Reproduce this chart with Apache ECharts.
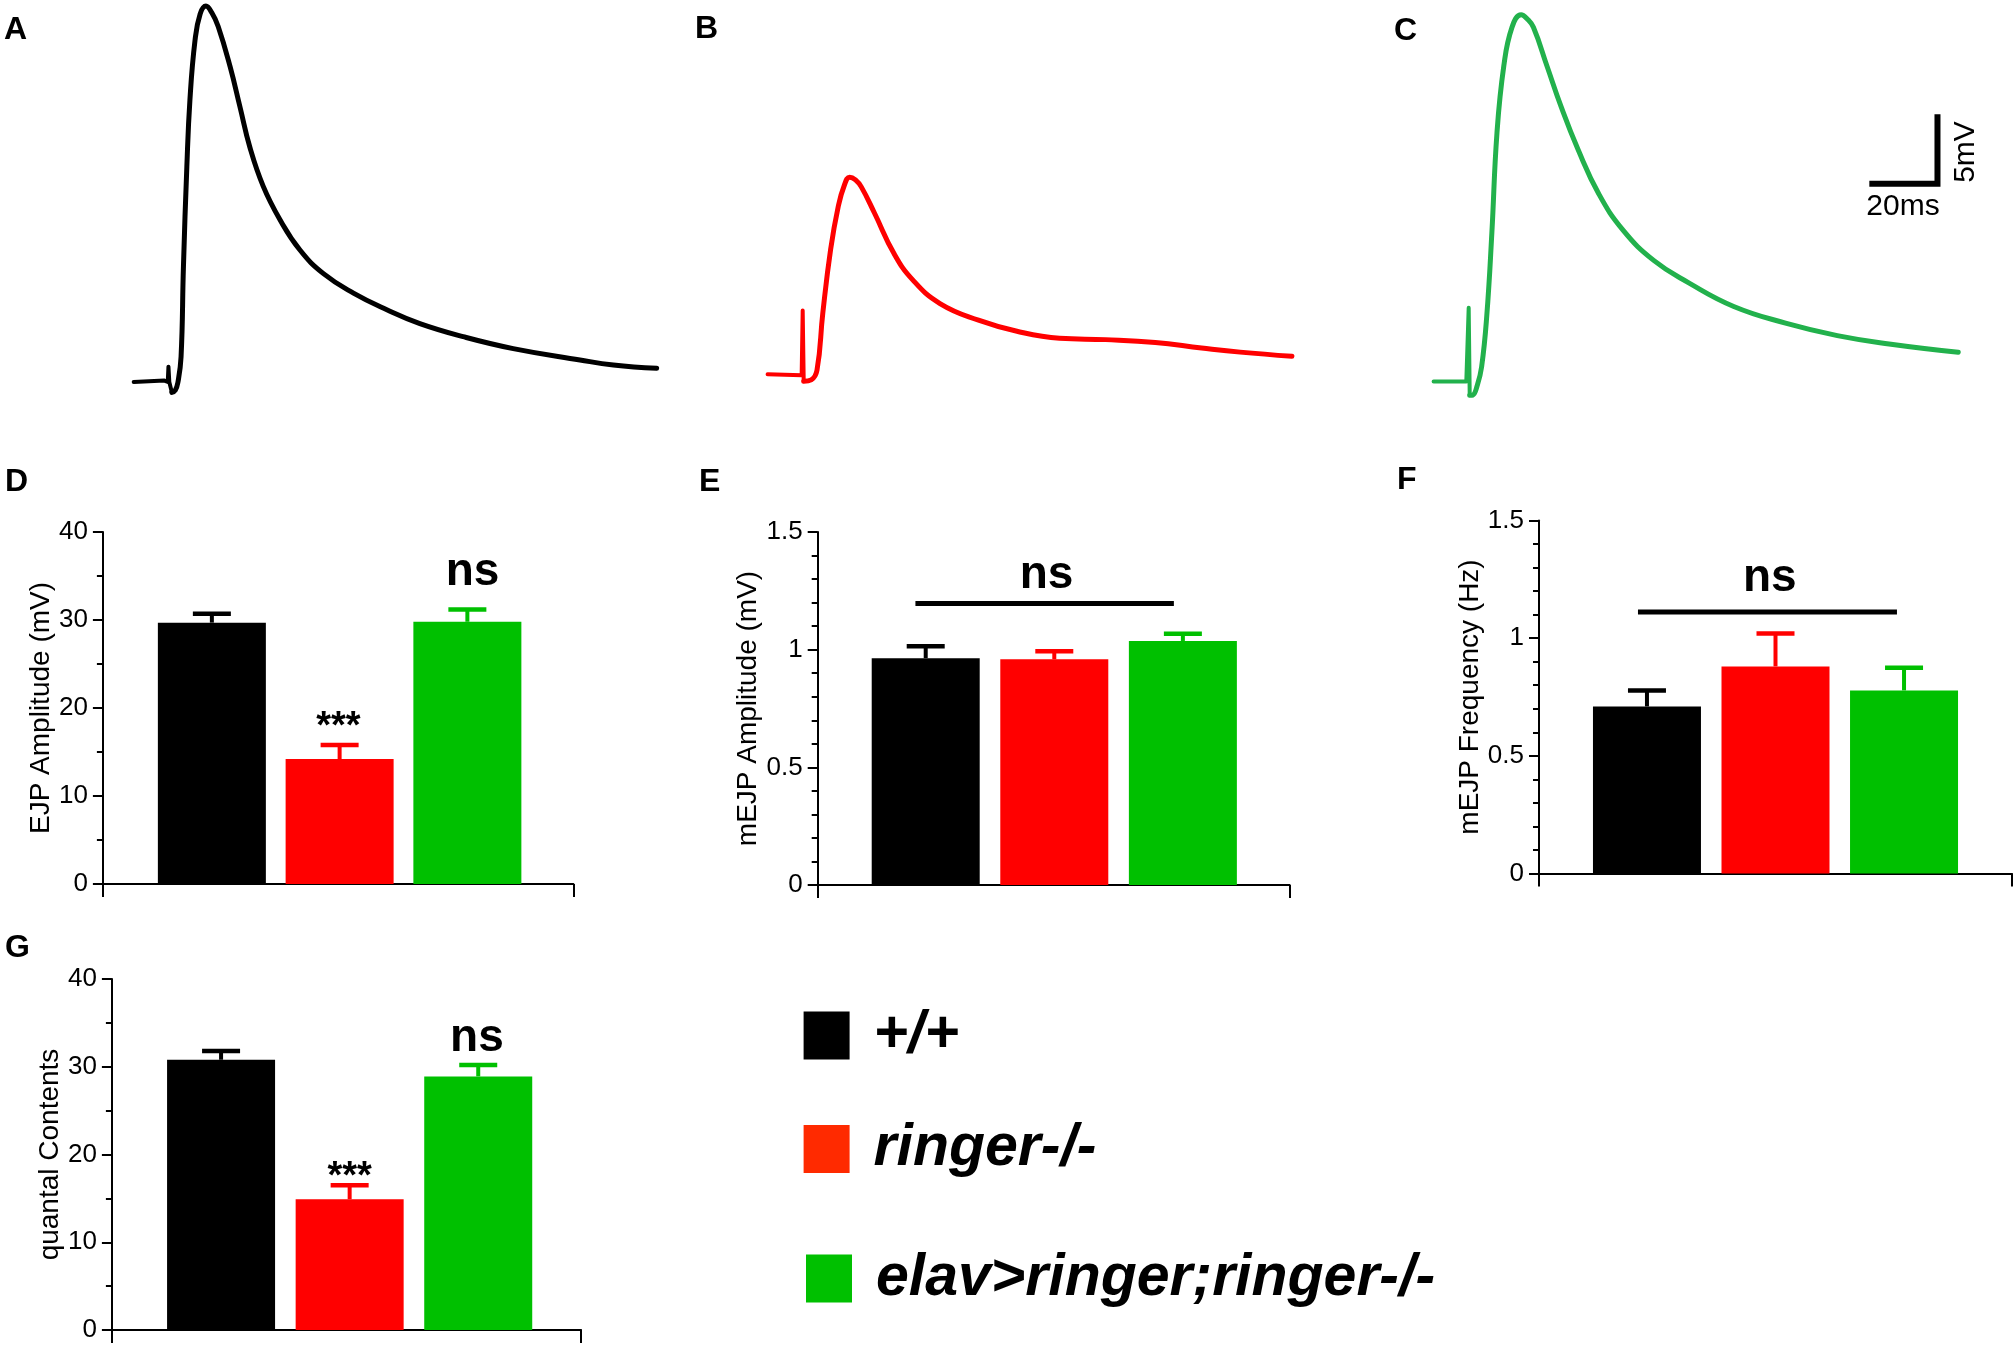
<!DOCTYPE html>
<html>
<head>
<meta charset="utf-8">
<script src="https://cdn.jsdelivr.net/npm/echarts@6/dist/echarts.min.js"></script>
<style>
  html, body { margin: 0; padding: 0; background: #ffffff; }
  #chart { width: 2016px; height: 1348px; }
</style>
</head>
<body>
<div id="chart"></div>
<script>
// ---------------- DATA ----------------
const CATEGORIES = ['+/+', 'ringer-/-', 'elav>ringer;ringer-/-'];

// Representative EJP traces: [time (ms), membrane potential relative to baseline (mV)]
// baseline + stimulus artefact
const TRACE_A_STIM = [[0,0],[9.0,0.1],[10.0,0],[10.2,1.1],[10.45,0],[11.2,-0.75]];
const TRACE_B_STIM = [[0,0],[10.0,-0.06],[10.3,4.6],[10.6,-0.5]];
const TRACE_C_STIM = [[0,0],[9.6,0],[10.3,5.3],[10.6,-1.0]];
// evoked junction potential
const TRACE_A_EJP = [[11.2,-0.75],[12.2,-0.6],[13.0,0.0],[13.9,1.8],[14.6,8.3],[15.6,15.5],[16.5,20.3],[18.0,24.6],[19.5,26.5],[21.2,27.07],[22.9,26.6],[24.8,25.6],[28.3,22.7],[31.2,19.8],[34.1,16.9],[38.0,14.1],[42.9,11.7],[48.8,9.5],[55.7,7.8],[64.5,6.4],[74.3,5.2],[84.0,4.2],[96.7,3.26],[111.4,2.4],[131.0,1.58],[140.8,1.22],[153.5,0.98]];
const TRACE_B_EJP = [[10.6,-0.5],[12.8,-0.4],[14.5,0.3],[16.2,4.4],[18.5,9.0],[20.75,12.1],[22.5,13.6],[24.1,14.2],[25.8,14.0],[27.5,13.5],[31.4,11.6],[37.1,8.7],[42.6,6.8],[50.6,5.1],[61.9,3.9],[73.2,3.1],[85.7,2.6],[99.2,2.5],[113.8,2.3],[127.4,1.9],[138.7,1.6],[153.9,1.3]];
const TRACE_C_EJP = [[10.6,-1.0],[11.5,-0.98],[12.8,-0.3],[14.1,1.06],[15.6,4.7],[17.1,10.7],[18.6,17.9],[20.6,22.7],[23.0,25.5],[25.7,26.4],[27.5,26.1],[29.3,25.5],[33.3,22.7],[37.4,19.8],[42.4,16.7],[48.5,13.5],[55.6,10.9],[64.7,8.7],[74.9,7.1],[88.1,5.4],[103.3,4.2],[118.5,3.3],[133.7,2.7],[154.0,2.1]];
// Scale bar: 20 ms horizontal, 5 mV vertical
const SCALE_BAR = [[127.9,14.24],[147.9,14.24],[147.9,19.24]];

// Bar panels: means and SEM per genotype
const EJP_MEAN = [29.7, 14.2, 29.8];
const EJP_SEM = [1.0, 1.6, 1.4];
const MEJP_AMP_MEAN = [0.964, 0.959, 1.037];
const MEJP_AMP_SEM = [0.051, 0.034, 0.031];
const MEJP_FREQ_MEAN = [0.71, 0.88, 0.778];
const MEJP_FREQ_SEM = [0.068, 0.14, 0.096];
const QUANTAL_MEAN = [30.8, 14.9, 28.9];
const QUANTAL_SEM = [1.0, 1.6, 1.3];

// Significance annotations: [x position, y value, text]
const SIG_D = [[1.99, 18.8, '***'], [3.04, 35.0, 'ns']];
const SIG_E = [[1.94, 1.30, 'ns']];
const SIG_F = [[1.955, 1.238, 'ns']];
const SIG_G = [[2.0, 18.4, '***'], [2.99, 32.8, 'ns']];
// Comparison lines: [x start, x end, y value]
const NSLINE_E = [[0.92, 2.93, 1.196]];
const NSLINE_F = [[0.93, 2.945, 1.111]];

// ---------------- STYLE / LAYOUT ----------------
const FONT = "'Liberation Sans', Arial, Helvetica, sans-serif";
const BAR_COLORS = ['#000000', '#ff0000', '#00c000'];
const LEGEND_COLORS = ['#000000', '#ff2a00', '#00c000'];
const TRACE_COLORS = ['#000000', '#ff0000', '#22b14c'];

const traceGrids = [
  { left: 133.7, top: 7.0, width: 545.1, height: 416.6 },
  { left: 767.6, top: -0.6, width: 545.1, height: 416.6 },
  { left: 1433.6, top: 6.5, width: 545.1, height: 416.6 }
];

const panels = [
  { mean: EJP_MEAN, sem: EJP_SEM, yName: 'EJP Amplitude (mV)', yMax: 40, yInt: 10, minor: 2,
    grid: { left: 102.9, top: 532, width: 470.5, height: 352 }, xr: [0.147, 3.83], nameGap: 48, sig: SIG_D, line: null },
  { mean: MEJP_AMP_MEAN, sem: MEJP_AMP_SEM, yName: 'mEJP Amplitude (mV)', yMax: 1.5, yInt: 0.5, minor: 5,
    grid: { left: 817.7, top: 532, width: 471.9, height: 353 }, xr: [0.16, 3.83], nameGap: 51, sig: SIG_E, line: NSLINE_E },
  { mean: MEJP_FREQ_MEAN, sem: MEJP_FREQ_SEM, yName: 'mEJP Frequency (Hz)', yMax: 1.5, yInt: 0.5, minor: 5,
    grid: { left: 1539, top: 520.5, width: 473, height: 353 }, xr: [0.16, 3.84], nameGap: 54, sig: SIG_F, line: NSLINE_F },
  { mean: QUANTAL_MEAN, sem: QUANTAL_SEM, yName: 'quantal Contents', yMax: 40, yInt: 10, minor: 2,
    grid: { left: 111.9, top: 979, width: 469.2, height: 351 }, xr: [0.151, 3.80], nameGap: 48, sig: SIG_G, line: null }
];

const grids = [];
const xAxes = [];
const yAxes = [];
const series = [];

// Trace panels
traceGrids.forEach((g, i) => {
  grids.push(Object.assign({ outerBoundsMode: 'none', containLabel: false }, g));
  xAxes.push({ gridIndex: i, type: 'value', min: 0, max: 160, show: false });
  yAxes.push({ gridIndex: i, type: 'value', min: -3, max: 27, show: false });
});
[TRACE_A_STIM, TRACE_B_STIM, TRACE_C_STIM].forEach((tr, i) => {
  series.push({
    type: 'line', xAxisIndex: i, yAxisIndex: i, data: tr,
    symbol: 'none', showSymbol: false, smooth: false, clip: false,
    lineStyle: { color: TRACE_COLORS[i], width: 4, join: 'round', cap: 'round' },
    silent: true, animation: false
  });
});
[TRACE_A_EJP, TRACE_B_EJP, TRACE_C_EJP].forEach((tr, i) => {
  series.push({
    type: 'line', xAxisIndex: i, yAxisIndex: i, data: tr,
    symbol: 'none', showSymbol: false, smooth: 0.45, clip: false,
    lineStyle: { color: TRACE_COLORS[i], width: 5, join: 'round', cap: 'round' },
    silent: true, animation: false
  });
});
series.push({
  type: 'line', xAxisIndex: 2, yAxisIndex: 2, data: SCALE_BAR,
  symbol: 'none', showSymbol: false, clip: false,
  lineStyle: { color: '#000', width: 6, join: 'miter', cap: 'butt' },
  silent: true, animation: false
});

// Bar panels
panels.forEach((p, k) => {
  const gi = k + 3;
  grids.push(Object.assign({ outerBoundsMode: 'none', containLabel: false }, p.grid));
  xAxes.push({
    gridIndex: gi, type: 'value', min: p.xr[0], max: p.xr[1],
    axisLine: { show: true, onZero: true, lineStyle: { color: '#000', width: 2 } },
    axisTick: { show: true, customValues: [p.xr[0], p.xr[1]], length: 13, lineStyle: { color: '#000', width: 2 } },
    axisLabel: { show: false }, splitLine: { show: false }, minorTick: { show: false }
  });
  yAxes.push({
    gridIndex: gi, type: 'value', min: 0, max: p.yMax, interval: p.yInt,
    axisLine: { show: true, onZero: false, lineStyle: { color: '#000', width: 2 } },
    axisTick: { show: true, length: 10, lineStyle: { color: '#000', width: 2 } },
    minorTick: { show: true, splitNumber: p.minor, length: 6, lineStyle: { color: '#000', width: 2 } },
    axisLabel: { color: '#000', fontSize: 26, fontFamily: FONT, margin: 15 },
    splitLine: { show: false }, minorSplitLine: { show: false },
    name: p.yName, nameLocation: 'middle', nameGap: p.nameGap,
    nameTextStyle: { fontSize: 28, color: '#000', fontFamily: FONT }
  });
  CATEGORIES.forEach((c, g) => {
    series.push({
      type: 'bar', name: c, xAxisIndex: gi, yAxisIndex: gi,
      data: [[g + 1, p.mean[g]]], barWidth: 108, barGap: '-100%',
      itemStyle: { color: BAR_COLORS[g] }, animation: false, silent: true
    });
  });
  // error bars (mean + SEM)
  series.push({
    type: 'custom', xAxisIndex: gi, yAxisIndex: gi, z: 3, silent: true, animation: false,
    data: p.mean.map((m, i) => [i + 1, m, m + p.sem[i]]),
    renderItem: function (params, api) {
      const x = api.value(0), m = api.value(1), t = api.value(2);
      const p0 = api.coord([x, m]);
      const p1 = api.coord([x, t]);
      const c = BAR_COLORS[params.dataIndex];
      return {
        type: 'group', children: [
          { type: 'line', shape: { x1: p0[0], y1: p0[1], x2: p1[0], y2: p1[1] }, style: { stroke: c, lineWidth: 4 } },
          { type: 'line', shape: { x1: p1[0] - 19, y1: p1[1], x2: p1[0] + 19, y2: p1[1] }, style: { stroke: c, lineWidth: 4.5 } }
        ]
      };
    }
  });
  // significance text
  const sig = p.sig;
  series.push({
    type: 'custom', xAxisIndex: gi, yAxisIndex: gi, z: 4, silent: true, animation: false,
    data: sig.map(s => [s[0], s[1]]),
    renderItem: function (params, api) {
      const item = sig[params.dataIndex];
      const pt = api.coord([item[0], item[1]]);
      const star = item[2] === '***';
      return {
        type: 'text',
        style: {
          text: item[2], x: pt[0], y: pt[1] + (star ? 9 : -4),
          align: 'center', verticalAlign: 'middle',
          fontSize: star ? 38 : 46, fontWeight: 'bold', fontFamily: FONT, fill: '#000'
        }
      };
    }
  });
  if (p.line) {
    const ln = p.line;
    series.push({
      type: 'custom', xAxisIndex: gi, yAxisIndex: gi, z: 4, silent: true, animation: false,
      data: ln.map(l => [l[0], l[2], l[1]]),
      renderItem: function (params, api) {
        const l = ln[params.dataIndex];
        const a = api.coord([l[0], l[2]]);
        const b = api.coord([l[1], l[2]]);
        return { type: 'line', shape: { x1: a[0], y1: a[1], x2: b[0], y2: b[1] }, style: { stroke: '#000', lineWidth: 5 } };
      }
    });
  }
});

// Legends (one per genotype, stacked like the figure key)
const legendTops = [1006, 1119.6, 1249];
const legendLefts = [803.6, 803.6, 806];
const legends = CATEGORIES.map((c, i) => ({
  data: [{ name: c, itemStyle: { color: LEGEND_COLORS[i] } }],
  left: legendLefts[i], top: legendTops[i], orient: 'vertical', padding: 0,
  icon: 'rect', itemWidth: 46, itemHeight: 48, selectedMode: false,
  textStyle: { fontSize: 59, fontWeight: 'bold', fontStyle: 'italic', color: '#000', fontFamily: FONT, lineHeight: 48, padding: [0, 0, 0, 19] }
}));

// Panel letters and scale bar text
const panelLetters = [['A', 4, 30], ['B', 695, 29], ['C', 1394, 31], ['D', 5, 482], ['E', 699, 482], ['F', 1397, 480], ['G', 5, 948]];
const graphics = panelLetters.map(l => ({
  type: 'text', x: l[1], y: l[2], silent: true,
  style: { text: l[0], fontSize: 32, fontWeight: 'bold', fontFamily: FONT, fill: '#000', align: 'left', verticalAlign: 'middle' }
}));
graphics.push({
  type: 'text', x: 1903, y: 207, silent: true,
  style: { text: '20ms', fontSize: 30, fontFamily: FONT, fill: '#000', align: 'center', verticalAlign: 'middle' }
});
graphics.push({
  type: 'text', x: 1966, y: 152, rotation: Math.PI / 2, silent: true,
  style: { text: '5mV', fontSize: 30, fontFamily: FONT, fill: '#000', align: 'center', verticalAlign: 'middle' }
});

const chart = echarts.init(document.getElementById('chart'), null, { renderer: 'canvas', width: 2016, height: 1348 });
chart.setOption({
  backgroundColor: '#ffffff',
  animation: false,
  textStyle: { fontFamily: FONT },
  grid: grids,
  xAxis: xAxes,
  yAxis: yAxes,
  legend: legends,
  graphic: graphics,
  series: series
});
</script>
</body>
</html>
